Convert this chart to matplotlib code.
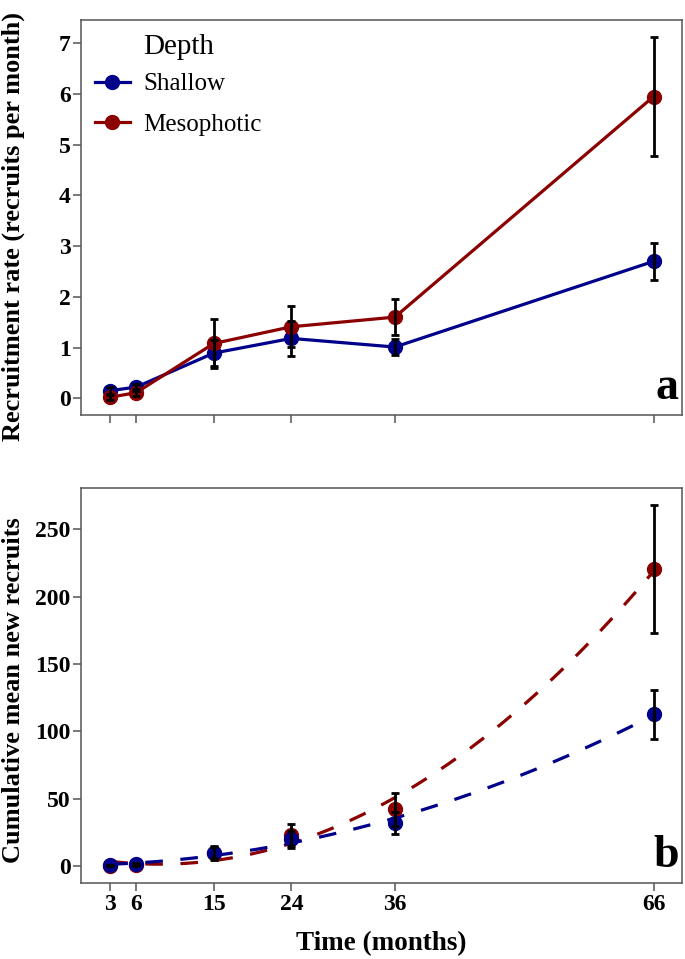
import numpy as np
import matplotlib
matplotlib.use("Agg")
import matplotlib.pyplot as plt
from matplotlib.lines import Line2D

plt.rcParams['font.family'] = ['Liberation Serif', 'DejaVu Serif']

### DATA ###

months = [3, 6, 15, 24, 36, 66]

# (a) recruitment rate (recruits per month)
rate_shallow = [0.15, 0.22, 0.89, 1.18, 1.01, 2.70]
rate_shallow_se = [0.07, 0.07, 0.25, 0.34, 0.15, 0.36]
rate_meso = [0.02, 0.11, 1.08, 1.41, 1.60, 5.95]
rate_meso_se = [0.05, 0.07, 0.48, 0.40, 0.35, 1.18]

# (b) cumulative mean new recruits
cum_shallow = [0.5, 1.3, 9.9, 19.8, 32.2, 112.6]
cum_shallow_se = [0.5, 0.8, 4.0, 6.0, 8.0, 18.2]
cum_meso = [0.1, 0.7, 9.9, 23.0, 42.1, 220.5]
cum_meso_se = [0.3, 0.5, 5.0, 8.0, 12.0, 47.6]

BLUE = '#00008B'
RED = '#8B0000'
SPINE = '#555555'

fig = plt.figure(figsize=(6.85, 9.59), dpi=100)
ax1 = fig.add_axes([0.1182, 0.5673, 0.8774, 0.4118])
ax2 = fig.add_axes([0.1182, 0.0789, 0.8774, 0.4125])


def style_axis(ax):
    for s in ax.spines.values():
        s.set_color(SPINE)
        s.set_linewidth(1.1)
    ax.tick_params(direction='out', length=5.5, width=1.1, color=SPINE,
                   labelsize=17, pad=2)
    for lab in ax.get_xticklabels() + ax.get_yticklabels():
        lab.set_fontweight('bold')
    ax.set_xlim(-0.4, 69.3)
    ax.set_xticks(months)


### PANEL A ###

for y, se, c in [(rate_shallow, rate_shallow_se, BLUE), (rate_meso, rate_meso_se, RED)]:
    ax1.plot(months, y, color=c, lw=2.3, marker='o', ms=10, zorder=3)
for y, se, c in [(rate_meso, rate_meso_se, RED), (rate_shallow, rate_shallow_se, BLUE)]:
    ax1.errorbar(months, y, yerr=se, fmt='none', ecolor='black', elinewidth=2,
                 capsize=2.8, capthick=2, zorder=4)

ax1.set_ylim(-0.33, 7.46)
ax1.set_yticks(range(0, 8))
style_axis(ax1)
ax1.set_xticklabels([])
ax1.set_ylabel('Recruitment rate (recruits per month)', fontsize=19,
               fontweight='bold')
ax1.yaxis.set_label_coords(-0.093, 0.478)
ax1.text(0.995, 0.015, 'a', transform=ax1.transAxes, ha='right', va='bottom',
         fontsize=33, fontweight='bold')

handles = [Line2D([], [], color=BLUE, lw=2.3, marker='o', ms=10),
           Line2D([], [], color=RED, lw=2.3, marker='o', ms=10)]
ax1.legend(handles, ['Shallow', 'Mesophotic'], loc='upper left',
           bbox_to_anchor=(0.023, 0.866), frameon=False, fontsize=18,
           handlelength=1.4, handletextpad=0.55, labelspacing=0.72,
           borderaxespad=0, borderpad=0)
ax1.text(0.103, 0.932, 'Depth', transform=ax1.transAxes, ha='left',
         va='center', fontsize=21)

### PANEL B ###

xs = np.linspace(months[0], months[-1], 200)
for y, c in [(cum_meso, RED), (cum_shallow, BLUE)]:
    fit = np.polyfit(months, y, 2)
    ax2.plot(xs, np.polyval(fit, xs), color=c, lw=2.3, ls=(0, (5.5, 5.5)), zorder=2)
for y, se, c in [(cum_meso, cum_meso_se, RED), (cum_shallow, cum_shallow_se, BLUE)]:
    ax2.plot(months, y, 'o', color=c, ms=10, zorder=3)
    ax2.errorbar(months, y, yerr=se, fmt='none', ecolor='black', elinewidth=2,
                 capsize=2.8, capthick=2, zorder=4)

ax2.set_ylim(-12.8, 281)
ax2.set_yticks(range(0, 251, 50))
style_axis(ax2)
ax2.set_ylabel('Cumulative mean new recruits', fontsize=19, fontweight='bold')
ax2.yaxis.set_label_coords(-0.093, 0.489)
ax2.set_xlabel('Time (months)', fontsize=19.5, fontweight='bold', labelpad=12)
ax2.text(0.995, 0.015, 'b', transform=ax2.transAxes, ha='right', va='bottom',
         fontsize=33, fontweight='bold')

plt.savefig('out.png', dpi=100)
